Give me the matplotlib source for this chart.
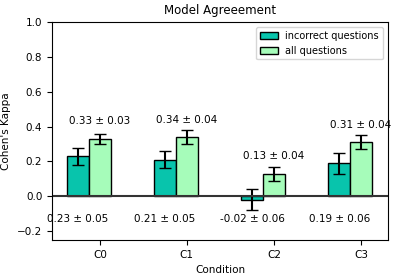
import matplotlib
matplotlib.use('Agg')
import matplotlib.pyplot as plt
import numpy as np

conditions = ['C0', 'C1', 'C2', 'C3']
incorrect = [0.23, 0.21, -0.02, 0.19]
incorrect_err = [0.05, 0.05, 0.06, 0.06]
all_q = [0.33, 0.34, 0.13, 0.31]
all_err = [0.03, 0.04, 0.04, 0.04]

plt.rcParams['font.size'] = 7.5

fig = plt.figure(figsize=(3.97, 2.78), dpi=100)
ax = fig.add_axes([0.131, 0.137, 0.846, 0.784])

x = np.arange(len(conditions))
w = 0.25
ax.bar(x - w, incorrect, w, yerr=incorrect_err, capsize=4, color='#08c4ac',
       edgecolor='black', label='incorrect questions')
ax.bar(x, all_q, w, yerr=all_err, capsize=4, color='#a6fcba',
       edgecolor='black', label='all questions')
ax.axhline(0, color='#333333', linewidth=1.5)

for i in range(len(conditions)):
    ax.text(x[i], all_q[i] + 0.1, '%.2f ± %.2f' % (all_q[i], all_err[i]),
            ha='center', va='center')
    ax.text(x[i] - w, -0.13, '%.2f ± %.2f' % (incorrect[i], incorrect_err[i]),
            ha='center', va='center')

ax.set_xticks(x)
ax.set_xticklabels(conditions)
ax.set_xlim(-0.55, 3.31)
ax.set_ylim(-0.25, 1.0)
ax.set_xlabel('Condition')
ax.set_ylabel("Cohen's Kappa")
ax.set_title('Model Agreeement', fontsize=8.5)
ax.legend(loc='upper right', fontsize=7, handlelength=1.8)

fig.savefig('out.png', dpi=100)
